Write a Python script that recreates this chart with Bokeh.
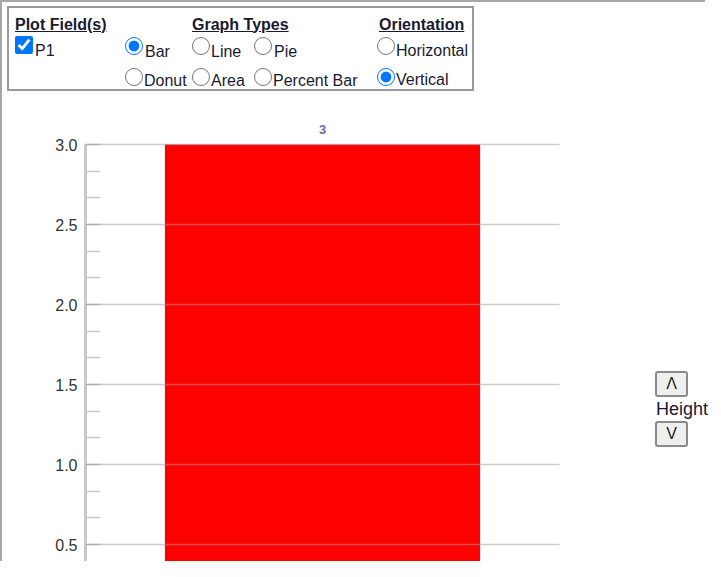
from bokeh.plotting import figure
from bokeh.models import (ColumnDataSource, LabelSet, Range1d, SingleIntervalTicker, Div,
                          FactorRange, NumeralTickFormatter)
from bokeh.core.properties import value
from bokeh.layouts import column, row
from bokeh.embed import file_html
from bokeh.resources import INLINE

# ---- data ----
categories = ["P1"]
values = [3]
value_labels = ["3"]
y_tick_interval = 0.5
graph_types_row1 = ["Bar", "Line", "Pie"]
graph_types_row2 = ["Donut", "Area", "Percent Bar"]
orientations = ["Horizontal", "Vertical"]

FONT = "'Liberation Sans', Arial, sans-serif"
TXT = "#1a1a2e"

Y_START, Y_AXIS_TOP, Y_END = 0.39375, 3.0, 3.15

source = ColumnDataSource(dict(cat=categories, val=values, lbl=value_labels))

p = figure(x_range=FactorRange(*categories), y_range=Range1d(Y_START, Y_END),
           width=630, height=459, output_backend="svg", toolbar_location=None,
           x_axis_location=None, tools="",
           min_border_left=83, min_border_right=73, min_border_top=18, min_border_bottom=0)
p.outline_line_color = None
p.background_fill_color = "white"
p.border_fill_color = "white"
p.vbar(x="cat", top="val", bottom=0, width=0.665, source=source,
       fill_color="#ff0000", line_color=None)

p.xgrid.visible = False
p.ygrid.grid_line_color = "#999999"
p.ygrid.grid_line_alpha = 0.5
p.ygrid.grid_line_width = 1.5
p.ygrid.level = "overlay"

ax = p.yaxis[0]
ax.ticker = SingleIntervalTicker(interval=y_tick_interval, num_minor_ticks=3)
ax.formatter = NumeralTickFormatter(format="0.0")
ax.bounds = (Y_START, Y_AXIS_TOP)
ax.axis_line_color = "#c8c8c8"
ax.axis_line_width = 3
ax.major_tick_in = 0
ax.major_tick_out = 0
ax.minor_tick_in = 15
ax.minor_tick_out = 0
ax.minor_tick_line_color = "#c8c8c8"
ax.minor_tick_line_width = 1.5
ax.major_label_text_font = "Liberation Sans"
ax.major_label_text_font_size = "16px"
ax.major_label_text_color = "#333333"
ax.major_label_standoff = 8

labels = LabelSet(x="cat", y="val", text="lbl", source=source, text_align="center",
                  text_baseline="bottom", y_offset=11, text_font_size="13px",
                  text_font_style="bold",
                  text_color="#6a6aa0", text_font=value("Liberation Sans"))
p.add_layout(labels)


def txt(x, baseline, s, size=16, bold=False, underline=False):
    top = baseline - 0.905 * size
    style = (f"position:absolute;left:{x}px;top:{top:.1f}px;font-family:{FONT};"
             f"font-size:{size}px;line-height:normal;color:{TXT};white-space:nowrap;")
    if bold:
        style += "font-weight:bold;"
    if underline:
        style += "text-decoration:underline;"
    return f'<span style="{style}">{s}</span>'


def inp(kind, x, y, checked=False, size=18):
    c = " checked" if checked else ""
    return (f'<input type="{kind}"{c} style="position:absolute;left:{x}px;top:{y}px;'
            f'width:{size}px;height:{size}px;margin:0;">')


parts = []
parts.append('<div style="position:absolute;left:0;top:0;width:705px;height:2px;background:#a8a8a8;"></div>')
parts.append('<div style="position:absolute;left:0;top:0;width:2px;height:102px;background:#a8a8a8;"></div>')
parts.append('<div style="position:absolute;left:7px;top:6px;width:467px;height:85px;border:2px solid #9a9a9a;"></div>')
parts.append(txt(15, 30, "Plot Field(s)", bold=True, underline=True))
parts.append(txt(192, 30, "Graph Types", bold=True, underline=True))
parts.append(txt(379, 30, "Orientation", bold=True, underline=True))
parts.append(inp("checkbox", 15, 36, checked=True))
parts.append(txt(35, 56, "P1"))
row1_x = [(125, 145), (192, 211), (254, 274)]
for (rx, tx), name in zip(row1_x, graph_types_row1):
    parts.append(inp("radio", rx, 37, checked=(name == "Bar")))
    parts.append(txt(tx, 57, name))
row2_x = [(125, 144), (192, 211), (254, 273)]
for (rx, tx), name in zip(row2_x, graph_types_row2):
    parts.append(inp("radio", rx, 68))
    parts.append(txt(tx, 86, name))
for (ry, tb), name in zip([(37, 56), (68, 85)], orientations):
    parts.append(inp("radio", 377, ry, checked=(name == "Vertical")))
    parts.append(txt(396, tb, name))

top_html = '<div style="position:relative;width:705px;height:102px;">' + "".join(parts) + "</div>"
top_div = Div(text=top_html, width=705, height=102, margin=0)

left_div = Div(text='<div style="width:2px;height:459px;background:#a8a8a8;"></div>',
               width=2, height=459, margin=0)

btn_style = ("position:absolute;left:23px;width:33px;height:26px;padding:0;margin:0;"
             "background:#efefef;border:2px solid #8a8a8a;border-radius:3px;"
             f"font-family:{FONT};font-size:16px;color:#222;")
right_html = ('<div style="position:relative;width:73px;height:459px;">'
              f'<button style="{btn_style}top:269px;">&Lambda;</button>'
              + txt(24, 313, "Height", size=18) +
              f'<button style="{btn_style}top:319px;">V</button>'
              '</div>')
right_div = Div(text=right_html, width=73, height=459, margin=0)

layout = column(top_div, row(left_div, p, right_div, spacing=0), spacing=0)

open("out.html", "w").write(file_html(layout, INLINE))
